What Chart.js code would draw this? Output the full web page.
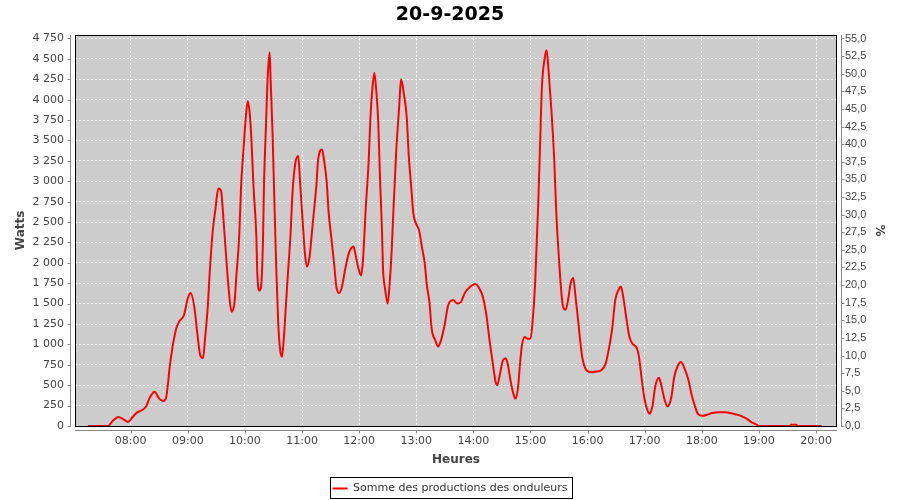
<!DOCTYPE html>
<html>
<head>
<meta charset="utf-8">
<script src="https://cdn.jsdelivr.net/npm/chart.js@4.4.1/dist/chart.umd.min.js"></script>
<style>
html, body { margin: 0; padding: 0; background: #fff; }
</style>
</head>
<body>
<canvas id="prod" width="900" height="500"></canvas>
<script>
// production du 20-9-2025
var times = ['07:15','07:36','07:41','07:47','07:52','07:57','08:02','08:06','08:11','08:16',
  '08:20','08:25','08:30','08:34','08:37','08:39','08:41','08:44','08:48','08:51',
  '08:56','09:00','09:03','09:07','09:10','09:13','09:16','09:18','09:21','09:23',
  '09:26','09:29','09:32','09:35','09:37','09:40','09:43','09:46','09:49','09:51',
  '09:54','09:56','09:59','10:01','10:03','10:05','10:07','10:09','10:12','10:13',
  '10:15','10:17','10:19','10:20','10:22','10:24','10:26','10:27','10:29','10:31',
  '10:33','10:35','10:37','10:39','10:41','10:43','10:45','10:48','10:50','10:53',
  '10:56','10:58','11:01','11:03','11:05','11:08','11:10','11:12','11:15','11:17',
  '11:21','11:23','11:26','11:28','11:31','11:34','11:36','11:39','11:42','11:45',
  '11:49','11:54','11:56','11:59','12:02','12:04','12:07','12:10','12:12','12:14',
  '12:16','12:18','12:20','12:22','12:24','12:25','12:27','12:30','12:32','12:34',
  '12:36','12:39','12:42','12:44','12:47','12:50','12:52','12:55','12:57','13:00',
  '13:03','13:06','13:09','13:11','13:14','13:16','13:20','13:23','13:26','13:30',
  '13:33','13:35','13:39','13:43','13:47','13:51','13:56','14:02','14:07','14:10',
  '14:14','14:17','14:21','14:23','14:25','14:28','14:31','14:34','14:36','14:39',
  '14:42','14:44','14:47','14:49','14:51','14:54','14:57','15:00','15:02','15:05',
  '15:08','15:10','15:12','15:15','15:17','15:19','15:22','15:25','15:27','15:30',
  '15:32','15:34','15:37','15:40','15:42','15:45','15:47','15:50','15:53','15:55',
  '15:59','16:04','16:11','16:14','16:19','16:22','16:26','16:29','16:33','16:35',
  '16:38','16:41','16:44','16:47','16:52','16:54','16:57','17:00','17:03','17:05',
  '17:08','17:11','17:15','17:17','17:21','17:24','17:28','17:31','17:35','17:38',
  '17:42','17:46','17:49','17:53','17:56','18:01','18:06','18:11','18:18','18:25',
  '18:30','18:35','18:42','18:47','18:53','18:59','19:01','19:32','19:34','19:39',
  '19:41','20:06'];
var watts = [0,0,60,110,85,50,110,160,190,235,
  345,420,335,305,335,500,725,970,1200,1280,
  1360,1565,1630,1445,1135,870,830,1055,1465,1875,
  2365,2655,2910,2880,2610,2120,1670,1400,1505,1835,
  2325,2940,3470,3800,3980,3840,3470,2940,2325,1875,
  1660,1710,2285,2940,3640,4290,4580,4250,3600,2735,
  1915,1260,930,850,1095,1465,1835,2365,2860,3225,
  3310,2980,2450,2120,1955,2080,2325,2570,2940,3270,
  3390,3270,2980,2610,2285,1955,1710,1630,1710,1900,
  2110,2200,2110,1945,1845,2030,2680,3250,3820,4150,
  4330,4110,3740,3005,2395,1945,1700,1500,1740,2110,
  2640,3375,3905,4250,4070,3785,3335,2885,2600,2475,
  2395,2190,1985,1740,1500,1210,1050,975,1050,1250,
  1455,1520,1545,1500,1520,1630,1700,1740,1670,1580,
  1335,1050,720,560,500,640,805,830,765,560,
  395,335,480,765,985,1090,1070,1070,1250,1785,
  2680,3415,4150,4515,4605,4355,3865,3250,2640,2030,
  1700,1475,1425,1580,1740,1815,1620,1295,965,805,
  680,660,670,680,765,925,1210,1540,1680,1710,
  1540,1295,1090,1010,945,845,560,315,190,150,
  235,480,590,520,315,240,355,600,745,785,
  700,560,395,235,145,125,140,160,170,170,
  160,145,120,90,40,8,0,0,15,15,
  0,0];
var hourTicks = ['08:00','09:00','10:00','11:00','12:00','13:00','14:00',
  '15:00','16:00','17:00','18:00','19:00','20:00'];
var wattStep = 250, wattLast = 4750;
var pctStep = 2.5, pctLast = 55;   // 55 % = 4750 W sur l'axe de droite

function toMin(t) {
  var p = t.split(':');
  return parseInt(p[0], 10) * 60 + parseInt(p[1], 10);
}
function pad(n) { return (n < 10 ? '0' : '') + n; }

var points = times.map(function (t, i) { return { x: toMin(t), y: watts[i] }; });

var wattMax = 4795;
var pctMax = wattMax * pctLast / wattLast;

var fTick = { family: 'DejaVu Sans', size: 11 };
var tickCol = '#444444';

var plotFrame = {
  id: 'plotFrame',
  beforeDraw: function (chart) {
    var a = chart.chartArea, c = chart.ctx;
    c.save();
    c.fillStyle = '#cccccc';
    c.fillRect(a.left, a.top, a.right - a.left, a.bottom - a.top);
    c.restore();
  },
  afterDraw: function (chart) {
    var a = chart.chartArea, c = chart.ctx, s = chart.scales;
    function line(x1, y1, x2, y2) { c.beginPath(); c.moveTo(x1, y1); c.lineTo(x2, y2); c.stroke(); }
    c.save();
    c.lineWidth = 1;
    c.strokeStyle = '#000';
    c.strokeRect(Math.round(a.left) + 0.5, Math.round(a.top) + 0.5,
      Math.round(a.right - a.left) - 1, Math.round(a.bottom - a.top));
    c.strokeStyle = '#888888';
    // axe gauche
    var xl = Math.round(a.left) - 4.5;
    line(xl, a.top, xl, a.bottom + 1);
    s.y.ticks.forEach(function (t) {
      var py = Math.round(s.y.getPixelForValue(t.value)) + 0.5;
      line(xl - 3, py, xl, py);
    });
    // axe droit
    var xr = Math.round(a.right) + 4.5;
    line(xr, a.top, xr, a.bottom + 1);
    s.y1.ticks.forEach(function (t) {
      var py = Math.round(s.y1.getPixelForValue(t.value)) + 0.5;
      line(xr, py, xr + 3, py);
    });
    // axe du bas
    var yb = Math.round(a.bottom) + 4.5;
    line(a.left, yb, a.right, yb);
    s.x.ticks.forEach(function (t) {
      var px = Math.round(s.x.getPixelForValue(t.value)) + 0.5;
      line(px, yb, px, yb + 3);
    });
    // cadre de la légende
    var hb = chart.legend.legendHitBoxes;
    if (hb && hb.length) {
      var b = hb[0];
      c.strokeStyle = '#000';
      c.strokeRect(Math.round(b.left) - 2.5, Math.round(b.top) - 5.5,
        Math.round(b.width) + 7, Math.round(b.height) + 10);
    }
    c.restore();
  }
};

new Chart(document.getElementById('prod'), {
  type: 'line',
  data: {
    datasets: [{
      label: 'Somme des productions des onduleurs',
      data: points,
      borderColor: '#ff0000',
      backgroundColor: '#ff0000',
      borderWidth: 2,
      pointRadius: 0,
      fill: false,
      cubicInterpolationMode: 'monotone'
    }]
  },
  options: {
    responsive: false,
    animation: false,
    layout: { padding: { left: 0, right: 0, top: 0, bottom: -4 } },
    plugins: {
      title: {
        display: true,
        text: '20-9-2025',
        color: '#000',
        font: { family: 'DejaVu Sans', size: 19, weight: 'bold' },
        padding: { top: 4, bottom: 8 }
      },
      legend: {
        position: 'bottom',
        labels: {
          color: '#333333',
          font: { family: 'DejaVu Sans', size: 11 },
          usePointStyle: true,
          pointStyle: 'line',
          pointStyleWidth: 15,
          padding: 11
        }
      },
      tooltip: { enabled: false }
    },
    scales: {
      x: {
        type: 'linear',
        min: 421.5,
        max: 1222,
        afterBuildTicks: function (sc) {
          sc.ticks = hourTicks.map(function (h) { return { value: toMin(h) }; });
        },
        afterFit: function (sc) { sc.height = 46; },
        ticks: {
          color: tickCol, font: fTick, padding: 9, maxRotation: 0, autoSkip: false,
          callback: function (v) { return pad(Math.floor(v / 60)) + ':' + pad(v % 60); }
        },
        grid: { color: '#ffffff', drawTicks: false },
        border: { display: false, dash: [2, 2] },
        title: {
          display: true, text: 'Heures', color: '#444444',
          font: { family: 'DejaVu Sans', size: 12, weight: 'bold' },
          padding: { top: 0, bottom: 5 }
        }
      },
      y: {
        type: 'linear',
        position: 'left',
        min: 0,
        max: wattMax,
        afterBuildTicks: function (sc) {
          var t = [];
          for (var v = 0; v <= wattLast; v += wattStep) t.push({ value: v });
          sc.ticks = t;
        },
        afterFit: function (sc) { sc.width = 75; },
        ticks: {
          color: tickCol, font: fTick, padding: 11,
          callback: function (v) { return String(v).replace(/\B(?=(\d{3})+(?!\d))/g, ' '); }
        },
        grid: { color: '#ffffff', drawTicks: false },
        border: { display: false, dash: [2, 2] },
        title: {
          display: true, text: 'Watts', color: '#444444',
          font: { family: 'DejaVu Sans', size: 12, weight: 'bold' },
          padding: { top: 14, bottom: 0 }
        }
      },
      y1: {
        type: 'linear',
        position: 'right',
        min: 0,
        max: pctMax,
        afterBuildTicks: function (sc) {
          var t = [];
          for (var v = 0; v <= pctLast + 0.01; v += pctStep) t.push({ value: v });
          sc.ticks = t;
        },
        afterFit: function (sc) { sc.width = 63; },
        ticks: {
          color: tickCol, font: { family: 'Liberation Sans', size: 11 }, padding: 8,
          callback: function (v) { return v.toFixed(1).replace('.', ','); }
        },
        grid: { drawOnChartArea: false, drawTicks: false },
        border: { display: false },
        title: {
          display: true, text: '%', color: '#444444',
          font: { family: 'DejaVu Sans', size: 12, weight: 'bold' },
          padding: { top: 14, bottom: 0 }
        }
      }
    }
  },
  plugins: [plotFrame]
});
</script>
</body>
</html>
